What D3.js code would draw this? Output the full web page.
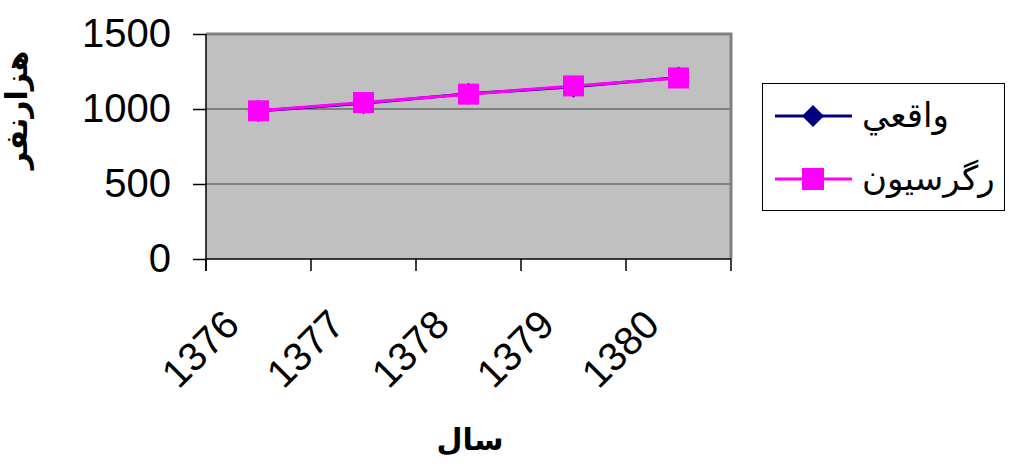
<!DOCTYPE html>
<html><head><meta charset="utf-8">
<script src="https://cdn.jsdelivr.net/npm/d3@7"></script>
<style>body{margin:0;background:#fff;overflow:hidden}</style>
</head><body><svg id="c" width="1009" height="466"></svg>
<script>
const years = ["1376","1377","1378","1379","1380"];
const actual = [987, 1038, 1101, 1148, 1210];
const regression = [988, 1043, 1099, 1154, 1207];
const yTicks = [0, 500, 1000, 1500];
const seriesNames = ["واقعي", "رگرسيون"];
const xTitle = "سال";
const yTitle = "هزارنفر";

const FONT = "Arial, 'Liberation Sans', 'DejaVu Sans', sans-serif";
const svg = d3.select("#c");
const L = 206, R = 731, T = 34, B = 259;
const x = d3.scaleBand().domain(years).range([L, R]).padding(0);
const y = d3.scaleLinear().domain([0, 1500]).range([B, T]);

// plot background
svg.append("rect").attr("x", L).attr("y", T).attr("width", R - L).attr("height", B - T).attr("fill", "#c0c0c0");

// gridlines
svg.append("g").selectAll("line").data(yTicks.filter(v => v > 0 && v < 1500)).join("line")
  .attr("x1", L).attr("x2", R).attr("y1", d => y(d)).attr("y2", d => y(d))
  .attr("stroke", "#404040").attr("stroke-width", 1.2);

// gray border top/right
svg.append("path").attr("d", `M${L},${T}H${R}V${B}`).attr("fill", "none").attr("stroke", "#808080").attr("stroke-width", 3);

// y axis
const yAxis = d3.axisLeft(y).tickValues(yTicks).tickSize(13).tickPadding(22).tickFormat(d3.format("d"));
const gy = svg.append("g").attr("transform", `translate(${L},0)`).call(yAxis);
gy.select(".domain").attr("stroke", "#000").attr("stroke-width", 1.5).attr("d", `M0,${T}V${B + 12}`);
gy.selectAll(".tick line").attr("stroke", "#000").attr("stroke-width", 1.5);
gy.selectAll(".tick text").attr("font-family", FONT).attr("font-size", 40).attr("fill", "#000");

// x axis
const xEdges = years.map(d => x(d)).concat([x(years[years.length - 1]) + x.bandwidth()]);
const gx = svg.append("g");
gx.append("line").attr("x1", L).attr("x2", R).attr("y1", B).attr("y2", B).attr("stroke", "#000").attr("stroke-width", 1.5);
gx.selectAll("line.t").data(xEdges).join("line").attr("class", "t")
  .attr("x1", d => d).attr("x2", d => d).attr("y1", B).attr("y2", B + 12)
  .attr("stroke", "#000").attr("stroke-width", 1.5);
gx.selectAll("text").data(years).join("text")
  .attr("transform", d => `translate(${x(d) + x.bandwidth() / 2 - 17},${B + 68}) rotate(-45)`)
  .attr("text-anchor", "end").attr("font-family", FONT).attr("font-size", 40).text(d => d);

// lines
const cx = (d, i) => x(years[i]) + x.bandwidth() / 2;
const line = d3.line().x((d, i) => cx(d, i)).y(d => y(d));
svg.append("path").datum(actual).attr("d", line).attr("fill", "none").attr("stroke", "#000080").attr("stroke-width", 3);
const diamond = (s) => `M0,${-s}L${s},0L0,${s}L${-s},0Z`;
svg.append("g").selectAll("path").data(actual).join("path")
  .attr("transform", (d, i) => `translate(${cx(d, i)},${y(d)})`).attr("d", diamond(11)).attr("fill", "#000080");
svg.append("path").datum(regression).attr("d", line).attr("fill", "none").attr("stroke", "#ff00ff").attr("stroke-width", 3);
svg.append("g").selectAll("rect").data(regression).join("rect")
  .attr("x", (d, i) => cx(d, i) - 10.5).attr("y", d => y(d) - 10.5).attr("width", 21).attr("height", 21).attr("fill", "#ff00ff");

// axis titles
svg.append("text").attr("x", 470).attr("y", 450).attr("text-anchor", "middle")
  .attr("font-family", FONT).attr("font-weight", "bold").attr("font-size", 30).text(xTitle);
svg.append("text").attr("transform", "translate(27,110) rotate(-90)").attr("text-anchor", "middle")
  .attr("font-family", FONT).attr("font-weight", "bold").attr("font-size", 30).text(yTitle);

// legend
const lg = svg.append("g");
lg.append("rect").attr("x", 762.5).attr("y", 83.5).attr("width", 242).attr("height", 127).attr("fill", "#fff").attr("stroke", "#000").attr("stroke-width", 1);
const colors = ["#000080", "#ff00ff"];
const ly = [116, 179];
seriesNames.forEach((name, i) => {
  lg.append("line").attr("x1", 775).attr("x2", 852).attr("y1", ly[i]).attr("y2", ly[i]).attr("stroke", colors[i]).attr("stroke-width", 3);
  if (i === 0) lg.append("path").attr("transform", `translate(813,${ly[i]})`).attr("d", diamond(11)).attr("fill", colors[i]);
  else lg.append("rect").attr("x", 813 - 11).attr("y", ly[i] - 11).attr("width", 22).attr("height", 22).attr("fill", colors[i]);
  lg.append("text").attr("x", 862).attr("y", ly[i] + 11).attr("direction", "rtl").attr("text-anchor", "end")
    .attr("font-family", FONT).attr("font-size", 34).text(name);
});
</script></body></html>
